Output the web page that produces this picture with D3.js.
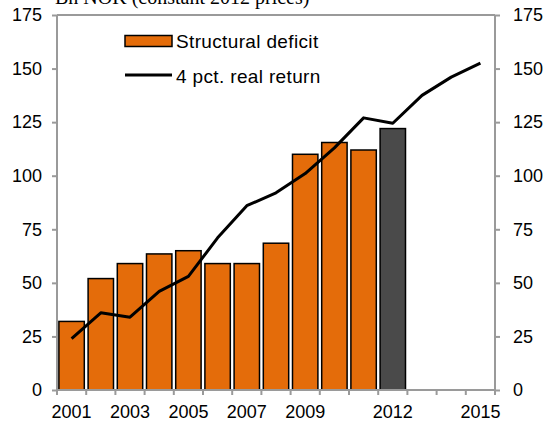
<!DOCTYPE html>
<html>
<head>
<meta charset="utf-8">
<script src="https://cdn.jsdelivr.net/npm/d3@7"></script>
<style>
  html, body { margin: 0; padding: 0; background: #fff; }
  svg { display: block; }
</style>
</head>
<body>
<div id="chart"></div>
<script>
const years = ["2001","2002","2003","2004","2005","2006","2007","2008","2009","2010","2011","2012","2013","2014","2015"];
const deficitYears = ["2001","2002","2003","2004","2005","2006","2007","2008","2009","2010","2011","2012"];
const deficit = [32, 52, 59, 63.5, 65, 59, 59, 68.5, 110, 115.5, 112, 122];
const realReturn = [24, 36, 34, 46, 53, 71, 86, 92, 101, 113, 127, 124.5, 137.5, 146, 152.5];
const yTicks = [0, 25, 50, 75, 100, 125, 150, 175];
const xLabels = ["2001","2003","2005","2007","2009","2012","2015"];
const title = "Bn NOK (constant 2012 prices)";
const legendLabels = ["Structural deficit", "4 pct. real return"];

const W = 546, H = 429;
const mLeft = 57, mRight = 495, mTop = 15, mBottom = 390;
const axisColor = "#9a9a9a";
const orange = "#E46C0A";
const dark = "#4A4A4A";

const svg = d3.select("#chart").append("svg").attr("width", W).attr("height", H);

const x = d3.scaleBand().domain(years).range([mLeft, mRight]).paddingInner(0.13).paddingOuter(0.065);
const y = d3.scaleLinear().domain([0, 175]).range([mBottom, mTop]);

// title (partly cut off at top, as in the reference)
svg.append("text").attr("x", 55).attr("y", 4)
  .attr("font-family", "Liberation Serif, Times New Roman, serif")
  .attr("font-size", 20).attr("fill", "#000").text(title);

// bars
svg.append("g").selectAll("rect").data(deficitYears).join("rect")
  .attr("x", d => x(d))
  .attr("y", (d, i) => y(deficit[i]))
  .attr("width", x.bandwidth())
  .attr("height", (d, i) => y(0) - y(deficit[i]))
  .attr("fill", d => d === "2012" ? dark : orange)
  .attr("stroke", "#000").attr("stroke-width", 1.5);

// axes
const fontFam = "Liberation Sans, Arial, sans-serif";
const leftAxis = d3.axisLeft(y).tickValues(yTicks).tickSize(5).tickPadding(10);
const rightAxis = d3.axisRight(y).tickValues(yTicks).tickSize(5).tickPadding(13);
const gL = svg.append("g").attr("transform", `translate(${mLeft},0)`).call(leftAxis);
const gR = svg.append("g").attr("transform", `translate(${mRight},0)`).call(rightAxis);
[gL, gR].forEach(g => {
  g.select(".domain").attr("stroke", axisColor).attr("stroke-width", 2);
  g.selectAll(".tick line").attr("stroke", axisColor).attr("stroke-width", 2);
  g.selectAll(".tick text").attr("font-family", fontFam).attr("font-size", 18).attr("fill", "#000");
});
gL.select(".domain").attr("d", `M0,${mTop}V${mBottom}`);
gR.select(".domain").attr("d", `M0,${mTop}V${mBottom}`);

// top border
svg.append("line").attr("x1", mLeft).attr("x2", mRight).attr("y1", mTop).attr("y2", mTop)
  .attr("stroke", axisColor).attr("stroke-width", 2);

// bottom axis
const bottomAxis = d3.axisBottom(x).tickSize(0).tickPadding(15)
  .tickFormat(d => xLabels.includes(d) ? d : "");
const gB = svg.append("g").attr("transform", `translate(0,${mBottom})`).call(bottomAxis);
gB.select(".domain").attr("d", `M${mLeft},0H${mRight}`).attr("stroke", axisColor).attr("stroke-width", 2);
gB.selectAll(".tick text").attr("font-family", fontFam).attr("font-size", 18).attr("fill", "#000");
// boundary ticks
const step = x.step();
const bounds = d3.range(years.length + 1).map(i => x(years[0]) - x.paddingInner() * step / 2 + i * step);
gB.selectAll(".bt").data(bounds).join("line").attr("class", "bt")
  .attr("x1", d => d).attr("x2", d => d).attr("y1", 0).attr("y2", 5)
  .attr("stroke", axisColor).attr("stroke-width", 2);

// line
const line = d3.line().x((d, i) => x(years[i]) + x.bandwidth() / 2).y(d => y(d));
svg.append("path").datum(realReturn).attr("d", line)
  .attr("fill", "none").attr("stroke", "#000").attr("stroke-width", 3).attr("stroke-linejoin", "round");

// legend
const lg = svg.append("g");
lg.append("rect").attr("x", 125).attr("y", 35.5).attr("width", 47).attr("height", 11)
  .attr("fill", orange).attr("stroke", "#000").attr("stroke-width", 1.5);
lg.append("line").attr("x1", 125).attr("x2", 172).attr("y1", 75).attr("y2", 75)
  .attr("stroke", "#000").attr("stroke-width", 3);
lg.selectAll("text").data(legendLabels).join("text")
  .attr("x", 176).attr("y", (d, i) => 47.5 + i * 35)
  .attr("font-family", fontFam).attr("font-size", 19).attr("letter-spacing", 0.35).attr("fill", "#000")
  .text(d => d);
</script>
</body>
</html>
